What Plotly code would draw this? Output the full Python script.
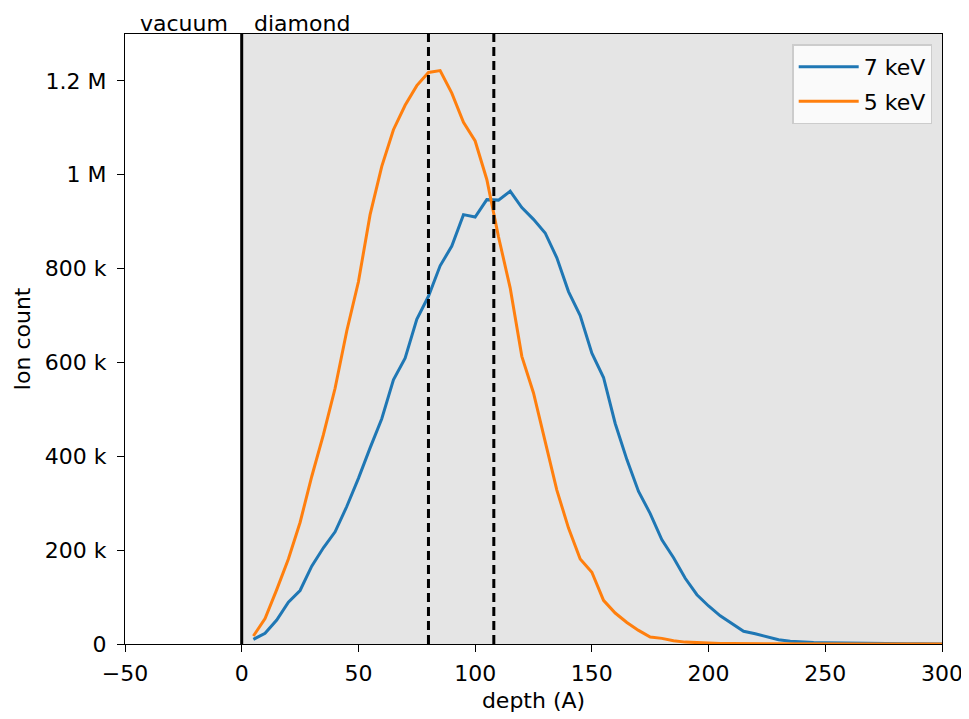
import plotly.graph_objects as go

depth = list(range(5, 301, 5))

kev7 = [10e3, 23e3, 51e3, 89e3, 114e3, 166e3, 205e3, 239e3, 293e3, 353e3,
        418e3, 480e3, 563e3, 609e3, 692e3, 741e3, 806e3, 848e3, 915e3, 910e3,
        947e3, 946e3, 965e3, 930e3, 905e3, 876e3, 823e3, 751e3, 700e3, 620e3,
        568e3, 470e3, 393e3, 325e3, 278e3, 222e3, 184e3, 140e3, 105e3, 81e3,
        60e3, 43e3, 27e3, 22e3, 15e3, 9e3, 6e3, 4e3, 3e3, 2.5e3,
        2e3, 1.5e3, 1.2e3, 1e3, 0.8e3, 0.6e3, 0.5e3, 0.4e3, 0.3e3, 0.2e3]

kev5 = [17e3, 54e3, 116e3, 181e3, 259e3, 357e3, 446e3, 545e3, 667e3, 772e3,
        915e3, 1018e3, 1096e3, 1148e3, 1190e3, 1218e3, 1222e3, 1174e3, 1112e3, 1072e3,
        990e3, 868e3, 759e3, 613e3, 535e3, 430e3, 328e3, 247e3, 181e3, 153e3,
        93e3, 66e3, 46e3, 29e3, 15e3, 12e3, 7e3, 4e3, 2.5e3, 1.5e3,
        1e3, 0.8e3, 0.6e3, 0.5e3, 0.4e3, 0.3e3, 0.2e3, 0.2e3, 0.1e3, 0.1e3,
        0, 0, 0, 0, 0, 0, 0, 0, 0, 0]

series_names = ["7 keV", "5 keV"]
series_colors = ["#1f77b4", "#ff7f0e"]

x_ticks = [-50, 0, 50, 100, 150, 200, 250, 300]
y_ticks = [0, 200e3, 400e3, 600e3, 800e3, 1000e3, 1200e3]
y_tick_labels = ["0", "200 k", "400 k", "600 k", "800 k", "1 M", "1.2 M"]

surface_x = 0
marker_lines = [80, 108]

FONT = "DejaVu Sans"
FS = 22

fig = go.Figure()
for name, ys, col in zip(series_names, [kev7, kev5], series_colors):
    fig.add_trace(go.Scatter(x=depth, y=ys, mode="lines", name=name, legendgroup=name,
                             line=dict(color=col, width=3)))

fig.add_shape(type="rect", xref="x", yref="paper", x0=surface_x, x1=300, y0=0, y1=1,
              fillcolor="#e5e5e5", line=dict(width=0), layer="below")
fig.add_shape(type="line", xref="x", yref="paper", x0=surface_x, x1=surface_x, y0=0, y1=1,
              line=dict(color="black", width=3))
for xv in marker_lines:
    fig.add_shape(type="line", xref="x", yref="paper", x0=xv, x1=xv, y0=0, y1=1,
                  line=dict(color="black", width=3, dash="9px,5px"))

fig.add_annotation(text="vacuum", xref="x", yref="paper", x=-5, y=1, xanchor="right",
                   yanchor="bottom", showarrow=False, font=dict(family=FONT, size=FS, color="black"),
                   borderpad=0, yshift=-3, xshift=-1)
fig.add_annotation(text="diamond", xref="x", yref="paper", x=5, y=1, xanchor="left",
                   yanchor="bottom", showarrow=False, font=dict(family=FONT, size=FS, color="black"),
                   borderpad=0, yshift=-3)

OFF = 7
fig.update_layout(
    width=969, height=719,
    margin=dict(l=124 - OFF, r=28 + OFF, t=33 - OFF, b=76 + OFF, autoexpand=False),
    paper_bgcolor="white", plot_bgcolor="white",
    font=dict(family=FONT, size=FS, color="black"),
    showlegend=True,
    legend=dict(x=0.988, y=0.983, xanchor="right", yanchor="top",
                bgcolor="rgba(255,255,255,0.8)", bordercolor="#cccccc", borderwidth=1.5,
                font=dict(family=FONT, size=FS), itemwidth=60, tracegroupgap=3),
    xaxis=dict(range=[-50, 300], tickvals=x_ticks, showgrid=False, zeroline=False,
               showline=True, linecolor="black", linewidth=1.2, mirror=True,
               ticks="outside", ticklen=7, tickcolor="black", tickwidth=1.2,
               ticklabelstandoff=2, automargin=False,
               title=dict(text="depth (A)", standoff=8, font=dict(size=FS))),
    yaxis=dict(range=[0, 1.3e6], tickvals=y_ticks, ticktext=y_tick_labels, showgrid=False,
               zeroline=False, showline=True, linecolor="black", linewidth=1.2, mirror=True,
               ticks="outside", ticklen=7, tickcolor="black", tickwidth=1.2,
               ticklabelstandoff=6, automargin=False,
               title=dict(text="Ion count", standoff=8, font=dict(size=FS))),
)

fig.write_html("out.html")
